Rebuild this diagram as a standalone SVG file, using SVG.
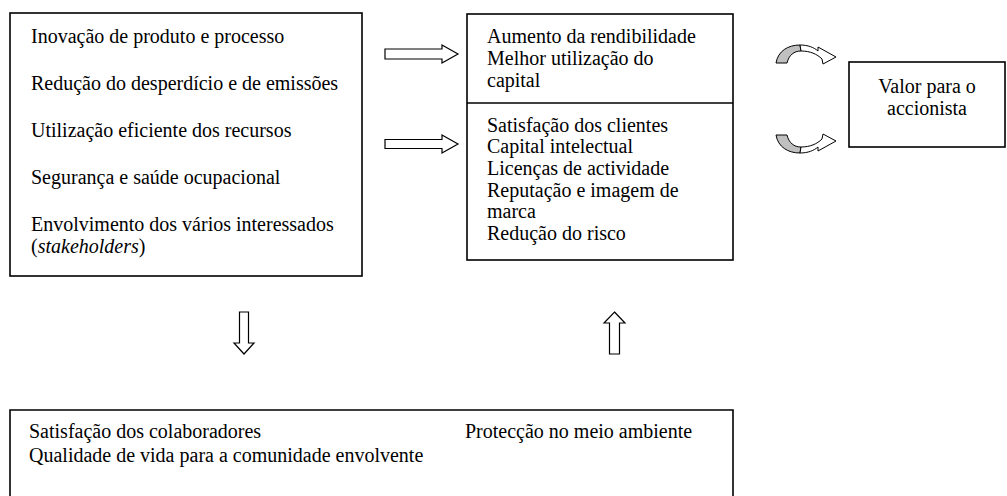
<svg xmlns="http://www.w3.org/2000/svg" width="1007" height="496" viewBox="0 0 1007 496">
<style>
.box{fill:#fff;stroke:#000;stroke-width:1.6}
.t{font-family:"Liberation Serif","Times New Roman",Times,serif;font-size:20px;fill:#000}
.arr{fill:#fff;stroke:#000;stroke-width:1.2;stroke-linejoin:miter}
.cg{fill:#c0c0c0;stroke:#000;stroke-width:1}
.cw{fill:#fff;stroke:#000;stroke-width:1}
</style>
<rect width="1007" height="496" fill="#fff"/>
<g id="actions">
<rect class="box" x="10" y="13" width="352" height="263"/>
<text class="t" x="31" y="43">Inovação de produto e processo</text>
<text class="t" x="31" y="90">Redução do desperdício e de emissões</text>
<text class="t" x="31" y="137">Utilização eficiente dos recursos</text>
<text class="t" x="31" y="184">Segurança e saúde ocupacional</text>
<text class="t" x="31" y="231">Envolvimento dos vários interessados</text>
<text class="t" x="31" y="253">(<tspan font-style="italic">stakeholders</tspan>)</text>
</g>
<g id="benefits">
<rect class="box" x="467" y="14" width="266" height="246"/>
<line x1="467" y1="103" x2="733" y2="103" stroke="#000" stroke-width="1.6"/>
<text class="t" x="487" y="43">Aumento da rendibilidade</text>
<text class="t" x="487" y="65">Melhor utilização do</text>
<text class="t" x="487" y="87">capital</text>
<text class="t" x="487" y="132">Satisfação dos clientes</text>
<text class="t" x="487" y="153">Capital intelectual</text>
<text class="t" x="487" y="175">Licenças de actividade</text>
<text class="t" x="487" y="197">Reputação e imagem de</text>
<text class="t" x="487" y="218">marca</text>
<text class="t" x="487" y="240">Redução do risco</text>
</g>
<g id="shareholder">
<rect class="box" x="849" y="62" width="156" height="85"/>
<text class="t" x="927" y="93" text-anchor="middle">Valor para o</text>
<text class="t" x="927" y="115" text-anchor="middle">accionista</text>
</g>
<g id="society">
<path class="box" d="M733,500 V410 H10 V500" fill="none"/>
<text class="t" x="29" y="438">Satisfação dos colaboradores</text>
<text class="t" x="29" y="462">Qualidade de vida para a comunidade envolvente</text>
<text class="t" x="465" y="438">Protecção no meio ambiente</text>
</g>
<g id="connectors">
<polygon class="arr" points="385,49 442,49 442,45 458,54 442,63 442,59 385,59"/>
<polygon class="arr" points="385,139.5 442,139.5 442,135 458,144 442,153 442,148.5 385,148.5"/>
<polygon class="arr" points="239.5,312 248.5,312 248.5,343 254,343 244,354 234,343 239.5,343"/>
<polygon class="arr" points="614.5,312 625,323 619.5,323 619.5,354 609.5,354 609.5,323 604,323"/>
<g id="cycle-top">
<path class="cg" d="M776,63 C778,51 788,45 800,45 L801,51 C794,51 789,55 787,63 Z"/>
<path class="cw" d="M800,45 C808,45 814,47.5 818,51 L818,47 L836,57 L823,64 L822,59 C817,54 810,51 801,51 Z"/>
</g>
<g id="cycle-bottom" transform="translate(0,198) scale(1,-1)">
<path class="cg" d="M776,63 C778,51 788,45 800,45 L801,51 C794,51 789,55 787,63 Z"/>
<path class="cw" d="M800,45 C808,45 814,47.5 818,51 L818,47 L836,57 L823,64 L822,59 C817,54 810,51 801,51 Z"/>
</g>
</g>
</svg>
